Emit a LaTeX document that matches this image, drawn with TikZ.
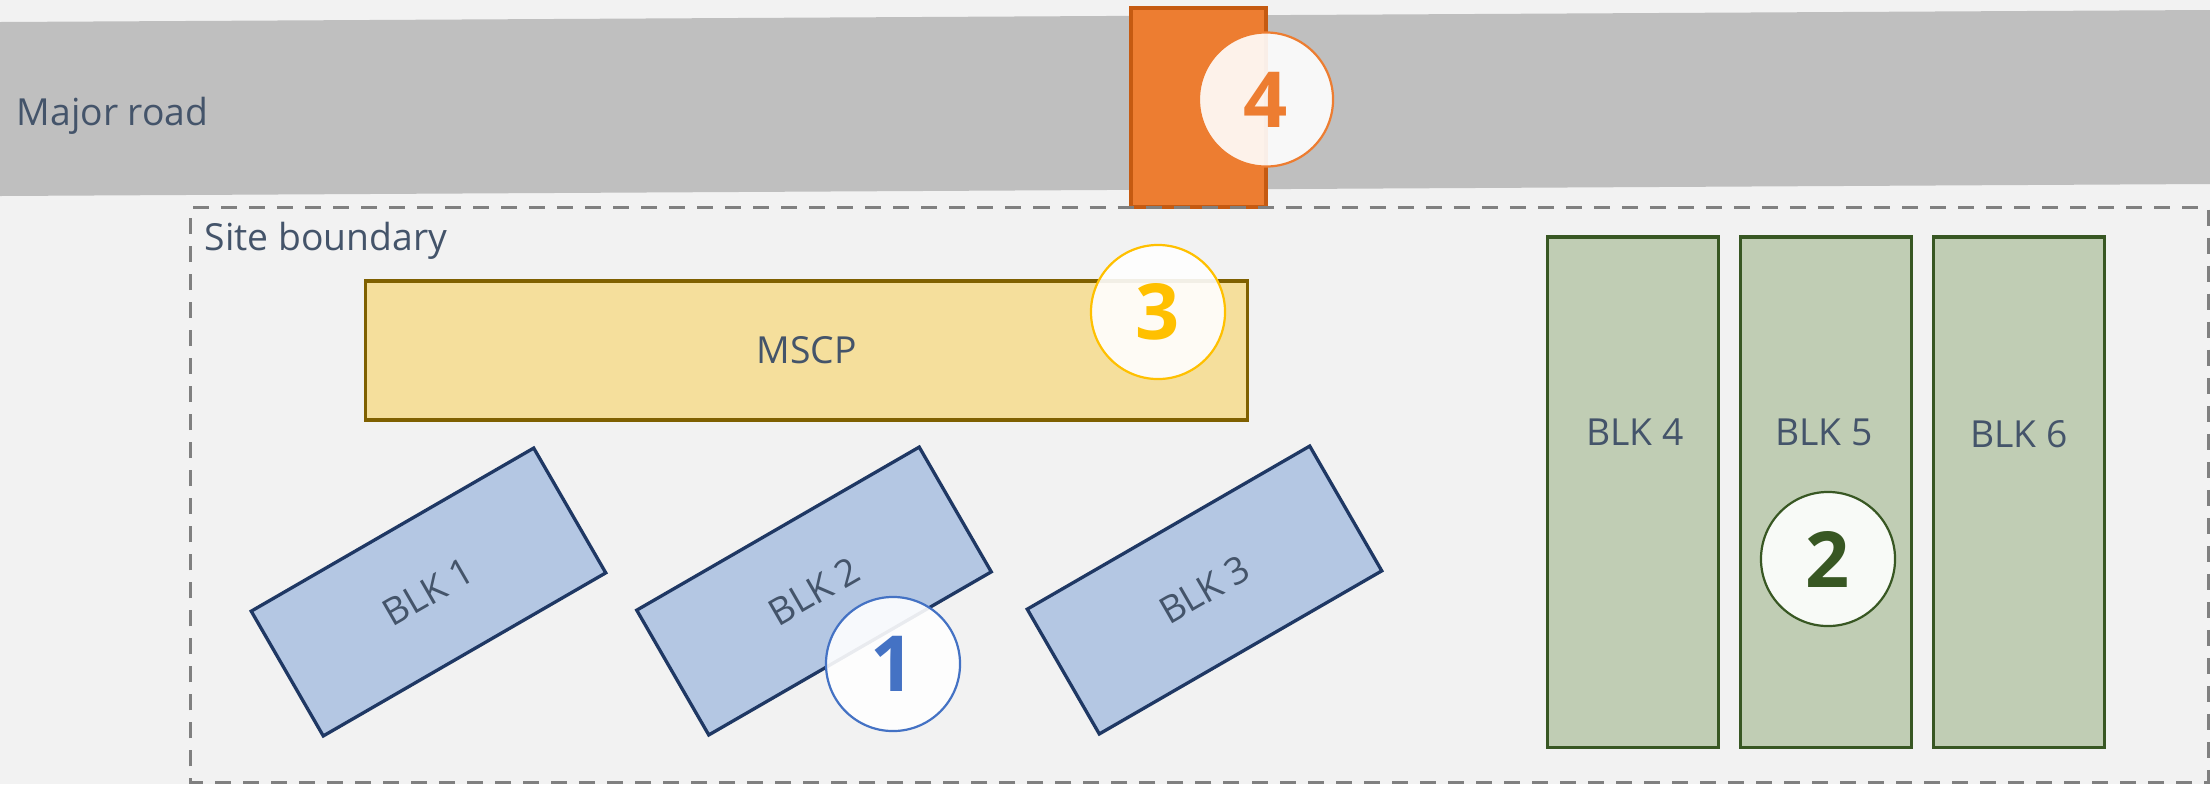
\documentclass[tikz,border=0pt]{standalone}
\usepackage{fontspec}
\setmainfont{Open Sans}
\begin{document}
\begin{tikzpicture}[x=0.01cm,y=-0.01cm,node distance=1.93cm,
        blk node/.style={rectangle,draw,line width=0.033cm,inner sep=0pt},
        blue node/.style={blk node,draw=blockblue,fill=fillblue,minimum width=3.26cm,minimum height=1.44cm,rotate=30,text=labelgrey,font=\fontsize{10.6}{12}\selectfont},
        green node/.style={blk node,draw=blockgreen,fill=fillgreen,minimum width=1.71cm,minimum height=5.10cm},
        name node/.style={text=labelgrey,inner sep=0pt,font=\fontsize{10.6}{12}\selectfont},
        num node/.style={circle,draw,line width=0.022cm,fill=white,fill opacity=.9,text opacity=1,minimum size=1.34cm,inner sep=0pt,font=\fontsize{22}{24}\selectfont\bfseries}]
        \definecolor{pagegrey}{HTML}{F2F2F2}
        \definecolor{roadgrey}{HTML}{BFBFBF}
        \definecolor{labelgrey}{HTML}{44546A}
        \definecolor{fillorange}{HTML}{ED7D31}
        \definecolor{lineorange}{HTML}{C55A11}
        \definecolor{fillyellow}{HTML}{F5DF9C}
        \definecolor{lineyellow}{HTML}{7F6000}
        \definecolor{numyellow}{HTML}{FFC000}
        \definecolor{fillblue}{HTML}{B4C7E3}
        \definecolor{blockblue}{HTML}{1F3864}
        \definecolor{numblue}{HTML}{4472C4}
        \definecolor{fillgreen}{HTML}{C0CDB4}
        \definecolor{blockgreen}{HTML}{385723}
        \useasboundingbox (0,0) rectangle (2210,784);
        \fill[pagegrey] (0,0) rectangle (2210,784);
        % road and gate
        \fill[roadgrey] (0,22) -- (2210,10) -- (2210,184) -- (0,196) -- cycle;
        \node[name node, anchor=base west] (road) at (16,125) {Major road};
        \node[blk node, draw=lineorange, fill=fillorange, minimum width=1.35cm, minimum height=1.99cm] (gate) at (1198.5,107.5) {};
        % site
        \draw[draw=black!50, line width=0.03cm, dash pattern=on 0.16cm off 0.12cm] (193,207.5) -- (2208,207.5) -- (2208,782) -- (190.5,782) -- (190.5,207.5);
        \node[name node, anchor=base west] (site) at (204,250) {Site boundary};
        \node[blk node, draw=lineyellow, fill=fillyellow, minimum width=8.81cm, minimum height=1.39cm, text=labelgrey, font=\fontsize{10.6}{12}\selectfont] (mscp) at (806.5,350.5) {MSCP};
        % blocks
        \node[blue node] (blk1) at (428.5,592) {BLK 1};
        \node[blue node] (blk2) at (814,591) {BLK 2};
        \node[blue node] (blk3) at (1204.5,590) {BLK 3};
        \node[green node] (blk4) at (1633,492) {};
        \node[green node] (blk5) [right of=blk4] {};
        \node[green node] (blk6) [right of=blk5] {};
        \node[name node] (lab4) at (1635,432) {BLK 4};
        \node[name node] (lab5) at (1824,432) {BLK 5};
        \node[name node] (lab6) at (2019,434) {BLK 6};
        % numbers
        \node[num node, draw=numblue, text=numblue] (n1) at (893,664) {1};
        \node[num node, draw=blockgreen, text=blockgreen] (n2) at (1828,559) {2};
        \node[num node, draw=numyellow, text=numyellow] (n3) at (1158,312) {3};
        \node[num node, draw=fillorange, text=fillorange] (n4) at (1266,99.5) {4};
        \end{tikzpicture}
\end{document}
